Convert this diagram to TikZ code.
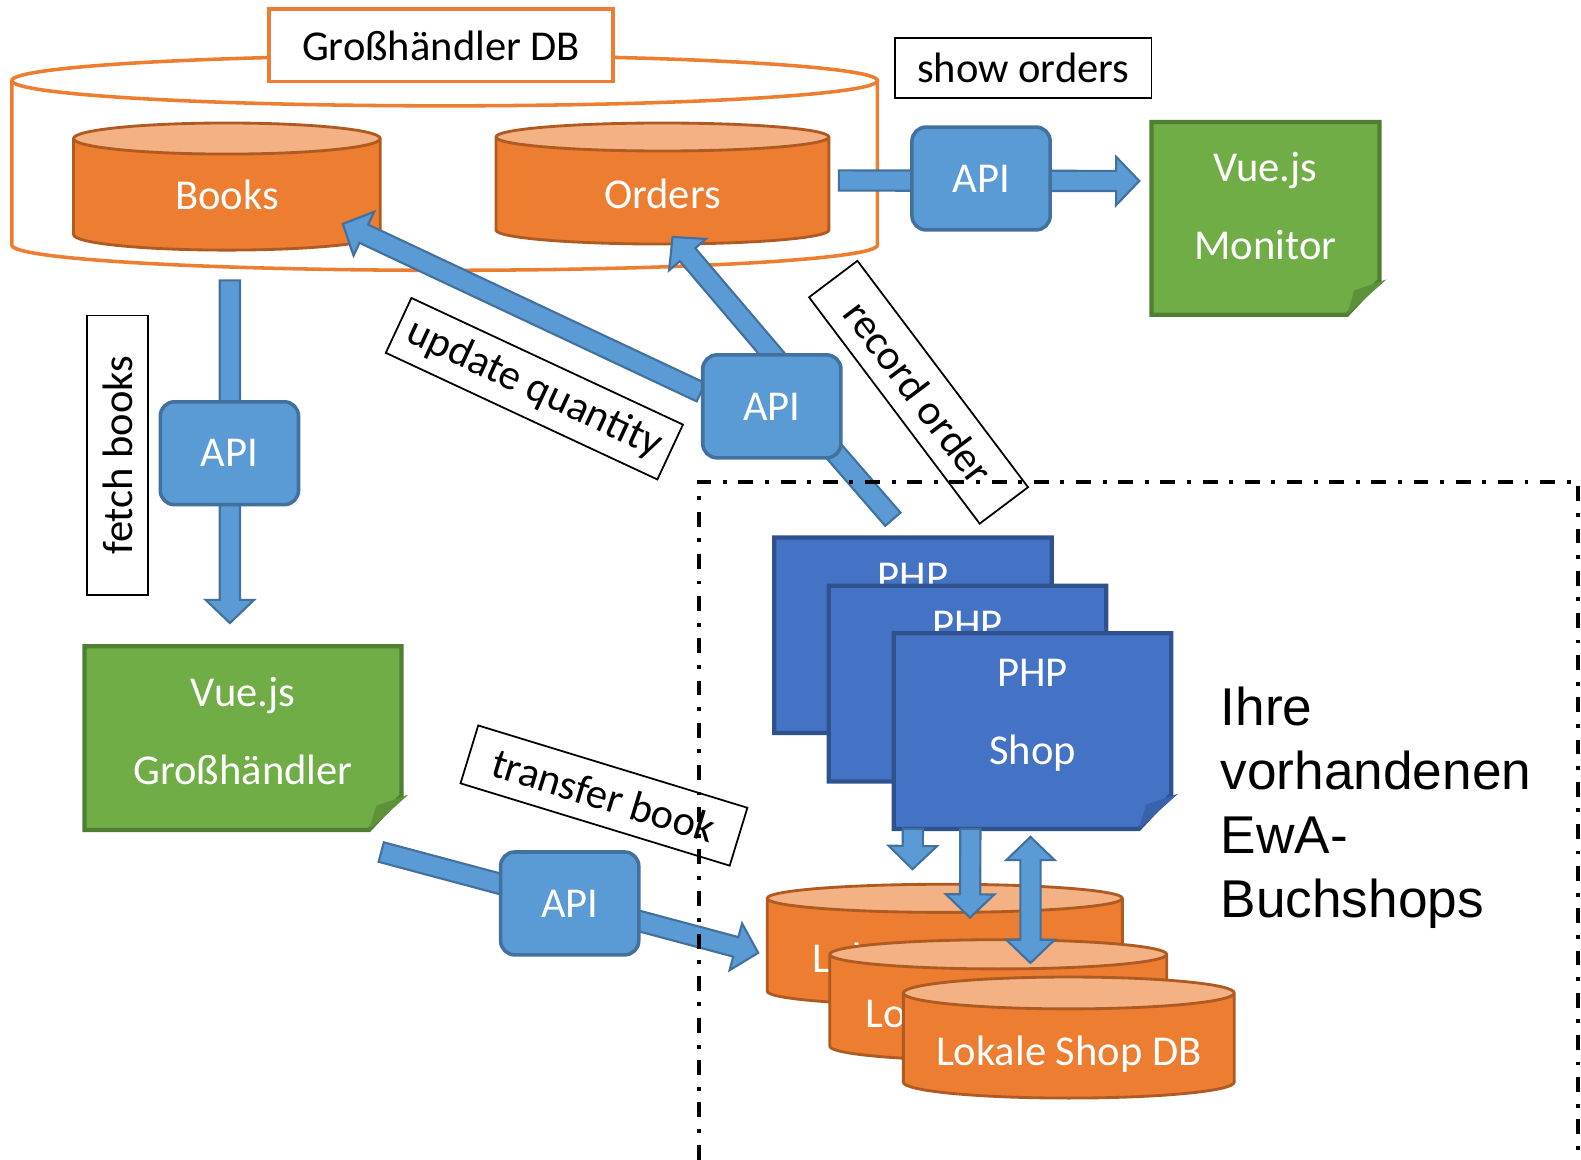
\documentclass[tikz,border=0pt]{standalone}
\usepackage{fontspec}
\setmainfont{Carlito}
\newfontfamily\arialfont{Liberation Sans}
\usepackage{xcolor}
\usepackage{tikz}
\usetikzlibrary{arrows.meta, positioning, calc, shapes.geometric}

\definecolor{dborange}{HTML}{ED7D31}
\definecolor{dbtop}{HTML}{F4B183}
\definecolor{dbline}{HTML}{AE5A21}
\definecolor{apiblue}{HTML}{5B9BD5}
\definecolor{apiline}{HTML}{41719C}
\definecolor{vuegreen}{HTML}{70AD47}
\definecolor{vueline}{HTML}{507E32}
\definecolor{vuefold}{HTML}{5E9139}
\definecolor{phpblue}{HTML}{4472C4}
\definecolor{phpline}{HTML}{2F528F}
\definecolor{phpfold}{HTML}{3A62AC}

\pgfdeclarelayer{back}
\pgfdeclarelayer{arr}
\pgfsetlayers{back,arr,main}

% block arrow with one head, two heads, no head
\newcommand{\fatarrow}[2]{%
  \coordinate (fa-a) at (#1);
  \coordinate (fa-b) at (#2);
  \coordinate (fa-c) at ($(fa-b)!0.23cm!(fa-a)$);
  \draw[fat] ($(fa-a)!0.1cm!90:(fa-b)$) -- ($(fa-c)!0.1cm!-90:(fa-a)$)
    -- ($(fa-c)!0.24cm!-90:(fa-a)$) -- (fa-b) -- ($(fa-c)!0.24cm!90:(fa-a)$)
    -- ($(fa-c)!0.1cm!90:(fa-a)$) -- ($(fa-a)!0.1cm!-90:(fa-b)$) -- cycle;}
\newcommand{\fatboth}[2]{%
  \coordinate (fa-a) at (#1);
  \coordinate (fa-b) at (#2);
  \coordinate (fa-c) at ($(fa-a)!0.23cm!(fa-b)$);
  \coordinate (fa-d) at ($(fa-b)!0.23cm!(fa-a)$);
  \draw[fat] (fa-a) -- ($(fa-c)!0.24cm!90:(fa-b)$) -- ($(fa-c)!0.1cm!90:(fa-b)$)
    -- ($(fa-d)!0.1cm!-90:(fa-a)$) -- ($(fa-d)!0.24cm!-90:(fa-a)$) -- (fa-b)
    -- ($(fa-d)!0.24cm!90:(fa-a)$) -- ($(fa-d)!0.1cm!90:(fa-a)$)
    -- ($(fa-c)!0.1cm!-90:(fa-b)$) -- ($(fa-c)!0.24cm!-90:(fa-b)$) -- cycle;}
\newcommand{\fatline}[2]{%
  \coordinate (fa-a) at (#1);
  \coordinate (fa-b) at (#2);
  \draw[fat] ($(fa-a)!0.1cm!90:(fa-b)$) -- ($(fa-b)!0.1cm!-90:(fa-a)$)
    -- ($(fa-b)!0.1cm!90:(fa-a)$) -- ($(fa-a)!0.1cm!-90:(fa-b)$) -- cycle;}
% note with folded corner, drawn over an empty node
\newcommand{\drawnote}[4]{%
  \draw[fill=#2, draw=#3, line width=1.2pt] (#1.north west) -- (#1.north east)
    -- ($(#1.south east)+(0,-34)$) -- ($(#1.south east)+(-32,0)$) -- (#1.south west) -- cycle;
  \fill[#4] ($(#1.south east)+(-32,0)$) -- ($(#1.south east)+(7,-35)$)
    -- ($(#1.south east)+(-25,-24)$) -- cycle;}

\begin{document}
\begin{tikzpicture}[x=0.01cm, y=-0.01cm,
    every node/.style={font=\fontsize{12}{14}\selectfont},
    db/.style={cylinder, shape border rotate=90, draw=dbline, line width=0.8pt,
      cylinder uses custom fill, cylinder body fill=dborange, cylinder end fill=dbtop,
      text=white, inner sep=0pt, anchor=shape center},
    api/.style={rectangle, rounded corners=4pt, draw=apiline, line width=1pt,
      fill=apiblue, text=white, minimum width=1.37cm, minimum height=1.02cm},
    notebox/.style={rectangle, inner sep=0pt, outer sep=0pt},
    notetxt/.style={text=white, align=center, font=\fontsize{12}{22}\selectfont},
    tagbox/.style={draw=black, fill=white, line width=0.5pt, minimum height=0.6cm, inner sep=0pt},
    fat/.style={fill=apiblue, draw=apiline, line width=0.6pt, line join=miter}]
  \useasboundingbox (0,0) rectangle (1568,1150);

  \begin{pgfonlayer}{back}
    % Grosshaendler database
    \node[notebox, minimum width=8.58cm, minimum height=2.13cm] (grdb) at (441,161.5) {};
    \draw[dborange, line width=1pt, fill=white] ($(grdb.north west)+(0,25)$)
      -- ($(grdb.south west)+(0,-25)$) arc[start angle=180, end angle=360, x radius=4.29cm, y radius=0.25cm]
      -- ($(grdb.north east)+(0,25)$);
    \draw[dborange, line width=1pt] ($(grdb.north)+(0,25)$) ellipse[x radius=4.29cm, y radius=0.25cm];
    \node[db, minimum width=3.04cm, minimum height=1.26cm, aspect=0.3] (books) at (225,185) {Books};
    \node[db, minimum width=3.30cm, minimum height=1.20cm, aspect=0.24, text height=10pt] (orders) at (657,182) {Orders};

    % Vue.js clients
    \node[notebox, minimum width=2.26cm, minimum height=1.91cm] (mon) at (1255,216.5) {};
    \drawnote{mon}{vuegreen}{vueline}{vuefold}
    \node[notetxt] (monT) at ($(mon.center)+(0,-12)$) {Vue.js\\Monitor};
    \node[notebox, minimum width=3.14cm, minimum height=1.82cm] (vueG) at (241,732) {};
    \drawnote{vueG}{vuegreen}{vueline}{vuefold}
    \node[notetxt] (vueGT) at ($(vueG.center)+(0,-7)$) {Vue.js\\Großhändler};

    % PHP shops
    \foreach \i/\x/\y in {1/905.5/630, 2/959.5/678, 3/1024/725} {
      \node[notebox, minimum width=2.75cm, minimum height=1.94cm] (php\i) at (\x,\y) {};
      \drawnote{php\i}{phpblue}{phpline}{phpfold}
      \node[notetxt] (php\i T) at ($(php\i.center)+(0,-16)$) {PHP\\Shop};
    }

    % local shop databases
    \foreach \i/\x/\y/\w/\a in {1/937/937/3.52/0.106, 2/990/992/3.34/0.11, 3/1060/1029/3.28/0.12} {
      \node[db, minimum width=\w cm, minimum height=1.2cm, aspect=\a, text height=13pt] (db\i) at (\x,\y) {Lokale Shop DB};
    }
  \end{pgfonlayer}

  % API gateways
  \node[api] (apiT) at (973,177) {API};
  \node[api] (apiL) at (227.5,449.5) {API};
  \node[api] (apiM) at (765.5,403) {API};
  \node[api] (apiB) at (565,896) {API};

  \begin{pgfonlayer}{arr}
    \fatarrow{$(orders.shape center)+(175,-3)$}{$(mon.west)+(-12,-37)$}
    \fatarrow{$(grdb.south)+(-213,10)$}{$(vueG.north)+(-13,-23)$}
    \fatarrow{$(apiM.west)+(0,-14)$}{$(books.shape center)+(115,37)$}
    \fatarrow{$(apiM.north)+(8,10)$}{$(orders.shape center)+(10,53)$}
    \fatline{$(apiM.south east)+(-12,-12)$}{$(php1.north)+(-20,-18)$}
    \fatarrow{$(vueG.south east)+(-20,22)$}{$(db1.shape center)+(-185,8)$}
    \fatarrow{$(php3.south west)+(19,0)$}{$(db1.shape center)+(-32,-75)$}
    \fatarrow{$(php3.south west)+(76,0)$}{$(db2.shape center)+(-28,-82)$}
    \fatboth{$(php3.south)+(-2,8)$}{$(db3.shape center)+(-38,-74)$}
  \end{pgfonlayer}

  % labels
  \node[tagbox, draw=dborange, line width=1pt, minimum width=3.41cm, minimum height=0.72cm] (grdbT) at (437.5,45) {Großhändler DB};
  \node[tagbox, minimum width=2.54cm] (showT) at (1015,67.5) {show orders};
  \node[tagbox, minimum width=2.77cm, rotate=90] (fetchT) at (116.5,451.5) {fetch books};
  \node[tagbox, minimum width=2.97cm, rotate=-25] (updT) at (530,385.5) {update quantity};
  \node[tagbox, minimum width=2.81cm, rotate=-53] (recT) at (911,389) {record order};
  \node[tagbox, minimum width=2.79cm, rotate=-17] (trT) at (599,789) {transfer book};

  % existing shops
  \node[anchor=north west, align=left, inner sep=0pt, font=\arialfont\fontsize{15}{18}\selectfont] (ihre) at (1210,681) {Ihre\\vorhandenen\\EwA-\\Buchshops};
  \draw[line width=1.1pt, dash pattern=on 4.2pt off 3.3pt on 1.1pt off 3.3pt]
    (693,1150) -- (693,478) -- (1565,478) -- (1565,1150);
\end{tikzpicture}
\end{document}
